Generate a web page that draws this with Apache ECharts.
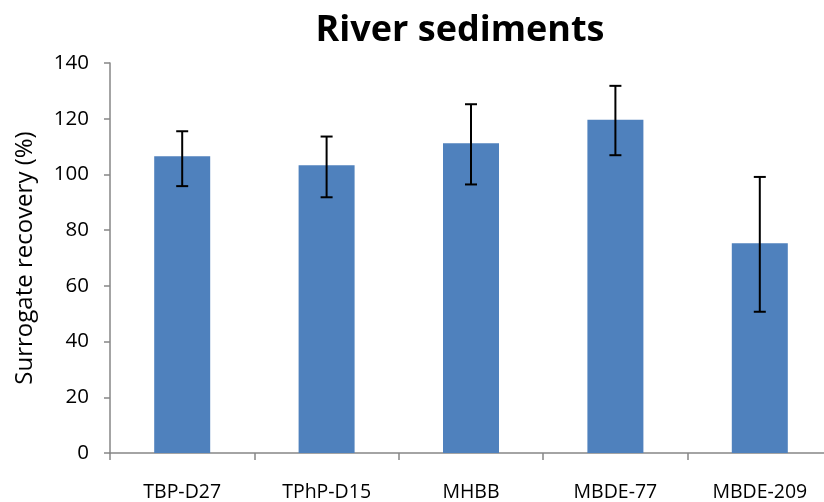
<!DOCTYPE html>
<html>
<head>
<meta charset="utf-8">
<script src="https://cdn.jsdelivr.net/npm/echarts@6/dist/echarts.min.js"></script>
<style>
  html, body { margin: 0; padding: 0; background: #fff; overflow: hidden; }
  #chart { width: 832px; height: 502px; }
</style>
</head>
<body>
<div id="chart"></div>
<script>
// Surrogate recovery in river sediments, mean with error range
const categories = ['TBP-D27', 'TPhP-D15', 'MHBB', 'MBDE-77', 'MBDE-209'];
const recovery = [106.5, 103.3, 111.2, 119.6, 75.3];
const errLow = [95.8, 91.8, 96.4, 106.9, 50.7];
const errHigh = [115.5, 113.6, 125.2, 131.8, 99.1];
const yTicks = [0, 20, 40, 60, 80, 100, 120, 140];

const FONT = '"Open Sans", Lato, sans-serif';
const chart = echarts.init(document.getElementById('chart'));

const errorData = categories.map((c, i) => [i, errLow[i], errHigh[i]]);

chart.setOption({
  animation: false,
  title: {
    text: 'River sediments',
    left: 455,
    top: 8,
    textAlign: 'center',
    textStyle: { fontFamily: FONT, fontSize: 36, fontWeight: 'bold', color: '#000' }
  },
  grid: { left: 110, top: 63, right: 0, height: 390 },
  xAxis: {
    type: 'category',
    data: categories,
    axisLine: { lineStyle: { color: '#868686', width: 1.5 } },
    axisTick: { show: true, length: 7, lineStyle: { color: '#868686', width: 1.5 } },
    axisLabel: { color: '#000', fontFamily: FONT, fontSize: 19.5, margin: 29 }
  },
  yAxis: {
    type: 'value',
    min: yTicks[0],
    max: yTicks[yTicks.length - 1],
    interval: 20,
    name: 'Surrogate recovery (%)',
    nameLocation: 'middle',
    nameGap: 73,
    nameTextStyle: { color: '#000', fontFamily: FONT, fontSize: 24 },
    axisLine: { show: true, lineStyle: { color: '#868686', width: 1.5 } },
    axisTick: { show: true, length: 6, lineStyle: { color: '#868686', width: 1.5 } },
    axisLabel: { color: '#000', fontFamily: FONT, fontSize: 20.5, margin: 21 },
    splitLine: { show: false }
  },
  series: [
    {
      type: 'bar',
      data: recovery,
      barWidth: 56,
      itemStyle: { color: '#4F81BD' }
    },
    {
      type: 'custom',
      data: errorData,
      z: 10,
      renderItem: function (params, api) {
        const x = api.value(0);
        const lo = api.coord([x, api.value(1)]);
        const hi = api.coord([x, api.value(2)]);
        const half = 6;
        const style = { stroke: '#000', lineWidth: 2 };
        return {
          type: 'group',
          children: [
            { type: 'line', shape: { x1: hi[0], y1: hi[1], x2: lo[0], y2: lo[1] }, style: style },
            { type: 'line', shape: { x1: hi[0] - half, y1: hi[1], x2: hi[0] + half, y2: hi[1] }, style: style },
            { type: 'line', shape: { x1: lo[0] - half, y1: lo[1], x2: lo[0] + half, y2: lo[1] }, style: style }
          ]
        };
      }
    }
  ]
});
</script>
</body>
</html>
